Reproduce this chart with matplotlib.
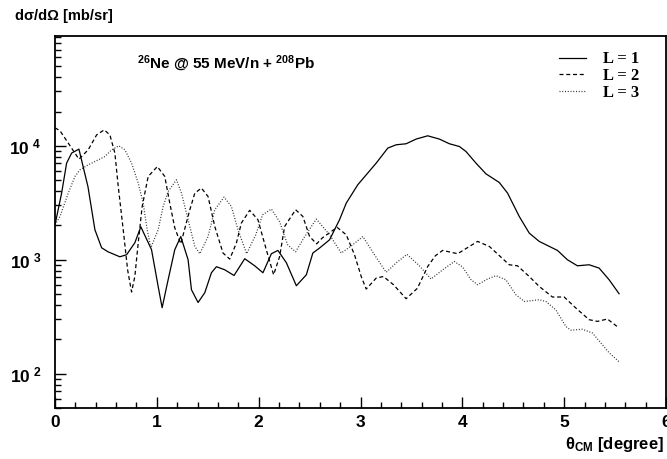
import numpy as np
import matplotlib
matplotlib.use("Agg")
import matplotlib.pyplot as plt
from matplotlib.ticker import MultipleLocator, LogLocator, NullFormatter, FuncFormatter

plt.rcParams['font.family'] = ['Liberation Sans', 'DejaVu Sans']
plt.rcParams['mathtext.fontset'] = 'custom'
plt.rcParams['mathtext.rm'] = 'Liberation Sans:bold'
plt.rcParams['mathtext.it'] = 'Liberation Sans:bold'
plt.rcParams['mathtext.bf'] = 'Liberation Sans:bold'

# angular distributions (theta in degree, log10 of dsigma/dOmega in mb/sr)
theta_L1 = [0.000, 0.065, 0.114, 0.163, 0.235, 0.324, 0.392, 0.458, 0.520, 0.637, 0.703, 0.784,
            0.843, 0.948, 1.013, 1.052, 1.111, 1.176, 1.235, 1.307, 1.340, 1.405, 1.471, 1.536,
            1.585, 1.667, 1.758, 1.863, 1.961, 2.042, 2.125, 2.189, 2.272, 2.370, 2.468, 2.532,
            2.598, 2.696, 2.794, 2.860, 2.973, 3.154, 3.268, 3.350, 3.448, 3.546, 3.660, 3.775,
            3.873, 3.971, 4.036, 4.134, 4.232, 4.363, 4.444, 4.559, 4.657, 4.755, 4.934, 5.032,
            5.130, 5.245, 5.343, 5.441, 5.539]
logxs_L1 = [3.307, 3.585, 3.848, 3.936, 3.971, 3.640, 3.263, 3.105, 3.070, 3.026, 3.044, 3.149,
            3.289, 3.088, 2.766, 2.579, 2.825, 3.088, 3.204, 3.000, 2.737, 2.625, 2.711, 2.886,
            2.939, 2.912, 2.862, 3.009, 2.947, 2.886, 3.053, 3.082, 2.974, 2.772, 2.868, 3.059,
            3.103, 3.175, 3.351, 3.497, 3.658, 3.848, 3.980, 4.009, 4.018, 4.059, 4.088, 4.059,
            4.018, 3.994, 3.950, 3.848, 3.754, 3.678, 3.585, 3.380, 3.234, 3.161, 3.082, 3.000,
            2.947, 2.956, 2.927, 2.825, 2.702]

theta_L2 = [0.000, 0.049, 0.130, 0.235, 0.326, 0.409, 0.483, 0.539, 0.588, 0.621, 0.670, 0.713,
            0.752, 0.784, 0.817, 0.856, 0.915, 1.005, 1.078, 1.127, 1.176, 1.235, 1.324, 1.373,
            1.438, 1.503, 1.569, 1.650, 1.716, 1.781, 1.830, 1.912, 1.993, 2.075, 2.147, 2.206,
            2.255, 2.363, 2.434, 2.500, 2.569, 2.627, 2.770, 2.860, 2.941, 3.007, 3.056, 3.154,
            3.225, 3.324, 3.448, 3.559, 3.660, 3.735, 3.807, 3.954, 4.150, 4.265, 4.461, 4.542,
            4.657, 4.755, 4.885, 5.000, 5.115, 5.245, 5.327, 5.425, 5.539]
logxs_L2 = [4.158, 4.132, 4.024, 3.883, 3.965, 4.096, 4.140, 4.096, 3.936, 3.643, 3.263, 2.912,
            2.717, 2.853, 3.146, 3.468, 3.731, 3.818, 3.731, 3.497, 3.281, 3.140, 3.439, 3.585,
            3.629, 3.555, 3.292, 3.059, 3.006, 3.146, 3.322, 3.434, 3.351, 3.088, 2.868, 3.029,
            3.292, 3.439, 3.380, 3.204, 3.140, 3.193, 3.285, 3.219, 3.044, 2.853, 2.743, 2.839,
            2.853, 2.781, 2.658, 2.750, 2.941, 3.035, 3.082, 3.053, 3.161, 3.117, 2.956, 2.947,
            2.853, 2.766, 2.673, 2.673, 2.576, 2.474, 2.459, 2.480, 2.401]

theta_L3 = [0.000, 0.049, 0.130, 0.196, 0.245, 0.326, 0.425, 0.490, 0.556, 0.627, 0.686, 0.752,
            0.817, 0.866, 0.902, 0.941, 1.013, 1.062, 1.111, 1.193, 1.242, 1.307, 1.373, 1.422,
            1.503, 1.569, 1.660, 1.732, 1.797, 1.882, 1.971, 2.039, 2.125, 2.206, 2.284, 2.363,
            2.451, 2.566, 2.696, 2.811, 2.912, 3.023, 3.137, 3.252, 3.353, 3.456, 3.578, 3.693,
            3.807, 3.922, 4.003, 4.085, 4.150, 4.248, 4.330, 4.428, 4.526, 4.608, 4.755, 4.820,
            4.918, 5.016, 5.066, 5.180, 5.278, 5.375, 5.441, 5.539]
logxs_L3 = [3.307, 3.380, 3.585, 3.731, 3.789, 3.833, 3.877, 3.906, 3.965, 4.000, 3.965, 3.848,
            3.673, 3.497, 3.281, 3.105, 3.263, 3.468, 3.599, 3.702, 3.585, 3.351, 3.117, 3.053,
            3.204, 3.439, 3.550, 3.468, 3.263, 3.053, 3.219, 3.395, 3.445, 3.333, 3.132, 3.070,
            3.202, 3.357, 3.219, 3.059, 3.123, 3.204, 3.044, 2.890, 2.974, 3.048, 2.947, 2.831,
            2.912, 2.985, 2.936, 2.825, 2.781, 2.831, 2.860, 2.825, 2.693, 2.634, 2.649, 2.634,
            2.561, 2.415, 2.382, 2.390, 2.357, 2.254, 2.184, 2.105]

labels = ['L = 1', 'L = 2', 'L = 3']

fig = plt.figure(figsize=(6.67, 4.59), dpi=100)
ax = fig.add_axes([55 / 667, 51 / 459, 611 / 667, 372 / 459])

kw = dict(lw=0.9, solid_joinstyle='round', dash_joinstyle='round')
ax.plot(theta_L1, 10 ** np.array(logxs_L1), color='black', ls='-', label=labels[0], **kw)
ax.plot(theta_L2, 10 ** np.array(logxs_L2), color='black', ls=(0, (3.2, 2.2)), label=labels[1], **kw)
ax.plot(theta_L3, 10 ** np.array(logxs_L3), color='#333333', ls=(0, (0.8, 1.4)), label=labels[2], **kw)

ax.set_yscale('log')
ax.set_xlim(0, 6)
ax.set_ylim(50, 9.2e4)

ax.xaxis.set_major_locator(MultipleLocator(1))
ax.xaxis.set_minor_locator(MultipleLocator(0.2))
ax.yaxis.set_major_locator(LogLocator(base=10, numticks=10))
ax.yaxis.set_minor_locator(LogLocator(base=10, subs=np.arange(2, 10), numticks=20))
ax.yaxis.set_minor_formatter(NullFormatter())
ax.yaxis.set_major_formatter(FuncFormatter(lambda v, p: r'$\mathbf{10^{\ %d}}$' % round(np.log10(v))))

ax.tick_params(which='both', direction='in', top=False, right=False, width=1.0)
ax.tick_params(which='major', length=8)
ax.tick_params(which='minor', length=4.5)
ax.tick_params(axis='x', pad=5, labelsize=12.5)
ax.tick_params(axis='y', pad=10, labelsize=12.5)
for t in ax.get_xticklabels() + ax.get_yticklabels():
    t.set_fontweight('bold')
for s in ax.spines.values():
    s.set_linewidth(1.3)

fig.text(15 / 667, 1 - 20 / 459, 'dσ/dΩ [mb/sr]', fontsize=10.5, fontweight='bold', ha='left', va='baseline')
fig.text(664 / 667, 1 - 449 / 459, r'θ$_{CM}$ [degree]', fontsize=12, fontweight='bold', ha='right', va='baseline')
ax.text(0.134, 0.912, r'$^{26}$Ne @ 55 MeV/n + $^{208}$Pb', transform=ax.transAxes,
        fontsize=11, fontweight='bold', ha='left', va='baseline')

ax.legend(loc='upper right', bbox_to_anchor=(0.975, 0.99), frameon=False,
          prop={'family': 'Liberation Serif', 'weight': 'bold', 'size': 12},
          handlelength=1.6, handletextpad=1.0, labelspacing=0.05, borderpad=0.2)

fig.savefig('out.png', dpi=100)
